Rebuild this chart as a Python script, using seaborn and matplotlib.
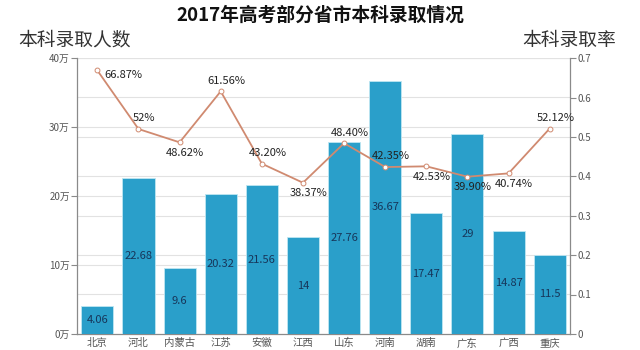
import numpy as np
import pandas as pd
import matplotlib
matplotlib.use("Agg")
import matplotlib.pyplot as plt
import seaborn as sns
from matplotlib.ticker import FixedLocator

provinces = ["北京", "河北", "内蒙古", "江苏", "安徽", "江西", "山东", "河南", "湖南", "广东", "广西", "重庆"]
admitted = [4.06, 22.68, 9.6, 20.32, 21.56, 14, 27.76, 36.67, 17.47, 29, 14.87, 11.5]
rates = [0.6687, 0.52, 0.4862, 0.6156, 0.4320, 0.3837, 0.4840, 0.4235, 0.4253, 0.3990, 0.4074, 0.5212]
rate_labels = ["66.87%", "52%", "48.62%", "61.56%", "43.20%", "38.37%", "48.40%", "42.35%", "42.53%", "39.90%", "40.74%", "52.12%"]
left_ticks = [0, 10, 20, 30, 40]
left_ticklabels = ["0万", "10万", "20万", "30万", "40万"]
right_ticks = [0, 0.1, 0.2, 0.3, 0.4, 0.5, 0.6, 0.7]
right_ticklabels = ["0", "0.1", "0.2", "0.3", "0.4", "0.5", "0.6", "0.7"]
label_side = ["right", "above", "below", "above", "above", "below", "above", "above", "below", "below", "below", "above"]

sns.set_style("white")
plt.rcParams["font.family"] = ["Noto Sans CJK SC", "DejaVu Sans"]

BAR = "#2a9fca"
LINE = "#d08a70"
GRID = "#e2e2e2"
AXC = "#8a8a8a"
TXT = "#555555"
LBL = "#17365a"

fig = plt.figure(figsize=(6.4, 3.5), dpi=100)
ax = fig.add_axes([0.120, 0.046, 0.771, 0.788])
ax2 = ax.twinx()

df = pd.DataFrame({"province": provinces, "admitted": admitted})
sns.barplot(data=df, x="province", y="admitted", ax=ax, color=BAR, saturation=1,
            width=0.78, edgecolor="#bfe6f2", linewidth=0.6, zorder=3)
ax.set_xlim(-0.5, len(provinces) - 0.5)
ax.set_ylim(0, 40)
ax.set_yticks(left_ticks)
ax.set_yticklabels(left_ticklabels)
ax.set_xlabel("")
ax.set_ylabel("")

# gridlines for both axes
for t in left_ticks[1:]:
    ax.axhline(t, color=GRID, lw=0.8, zorder=0)
for t in right_ticks[1:]:
    ax.axhline(t / 0.7 * 40, color=GRID, lw=0.8, zorder=0)

for i, v in enumerate(admitted):
    ax.text(i, v / 2, f"{v:g}", ha="center", va="center", fontsize=8, color=LBL, zorder=5)

sns.lineplot(x=np.arange(len(rates)), y=rates, ax=ax2, color=LINE, lw=1.3,
             marker="o", markersize=3.5, markerfacecolor="white",
             markeredgecolor=LINE, markeredgewidth=0.7, zorder=4)
ax2.set_ylim(0, 0.7)
ax2.set_yticks(right_ticks)
ax2.set_yticklabels(right_ticklabels)
ax2.set_ylabel("")

for i, (r, s, lab) in enumerate(zip(rates, label_side, rate_labels)):
    if s == "right":
        off, ha, va = (5, -3), "left", "center"
    elif s == "above":
        off, ha, va = (4, 4), "center", "bottom"
    else:
        off, ha, va = (4, -4), "center", "top"
    ax2.annotate(lab, (i, r), xytext=off, textcoords="offset points",
                 ha=ha, va=va, fontsize=8, color="#222222", zorder=6)

for a in (ax, ax2):
    a.spines["top"].set_visible(False)
    for sp in ("left", "right", "bottom"):
        a.spines[sp].set_color(AXC)
        a.spines[sp].set_linewidth(0.9)
    a.tick_params(axis="y", length=4, width=0.8, color=AXC, labelsize=7, labelcolor=TXT, pad=1)

ax.spines["right"].set_visible(False)
ax2.spines["left"].set_visible(False)
ax2.spines["bottom"].set_visible(False)

ax.tick_params(axis="x", which="major", length=0, labelsize=7.5, labelcolor=TXT, pad=3)
ax.xaxis.set_minor_locator(FixedLocator(np.arange(-0.5, len(provinces), 1.0)))
ax.tick_params(axis="x", which="minor", length=4, width=0.8, color=AXC)

fig.text(0.5, 0.955, "2017年高考部分省市本科录取情况", ha="center", va="center",
         fontsize=13.5, fontweight="bold", color="#111111")
fig.text(0.028, 0.885, "本科录取人数", ha="left", va="center", fontsize=13.5, color="#333333")
fig.text(0.962, 0.885, "本科录取率", ha="right", va="center", fontsize=13.5, color="#333333")

fig.savefig("out.png", dpi=100)
